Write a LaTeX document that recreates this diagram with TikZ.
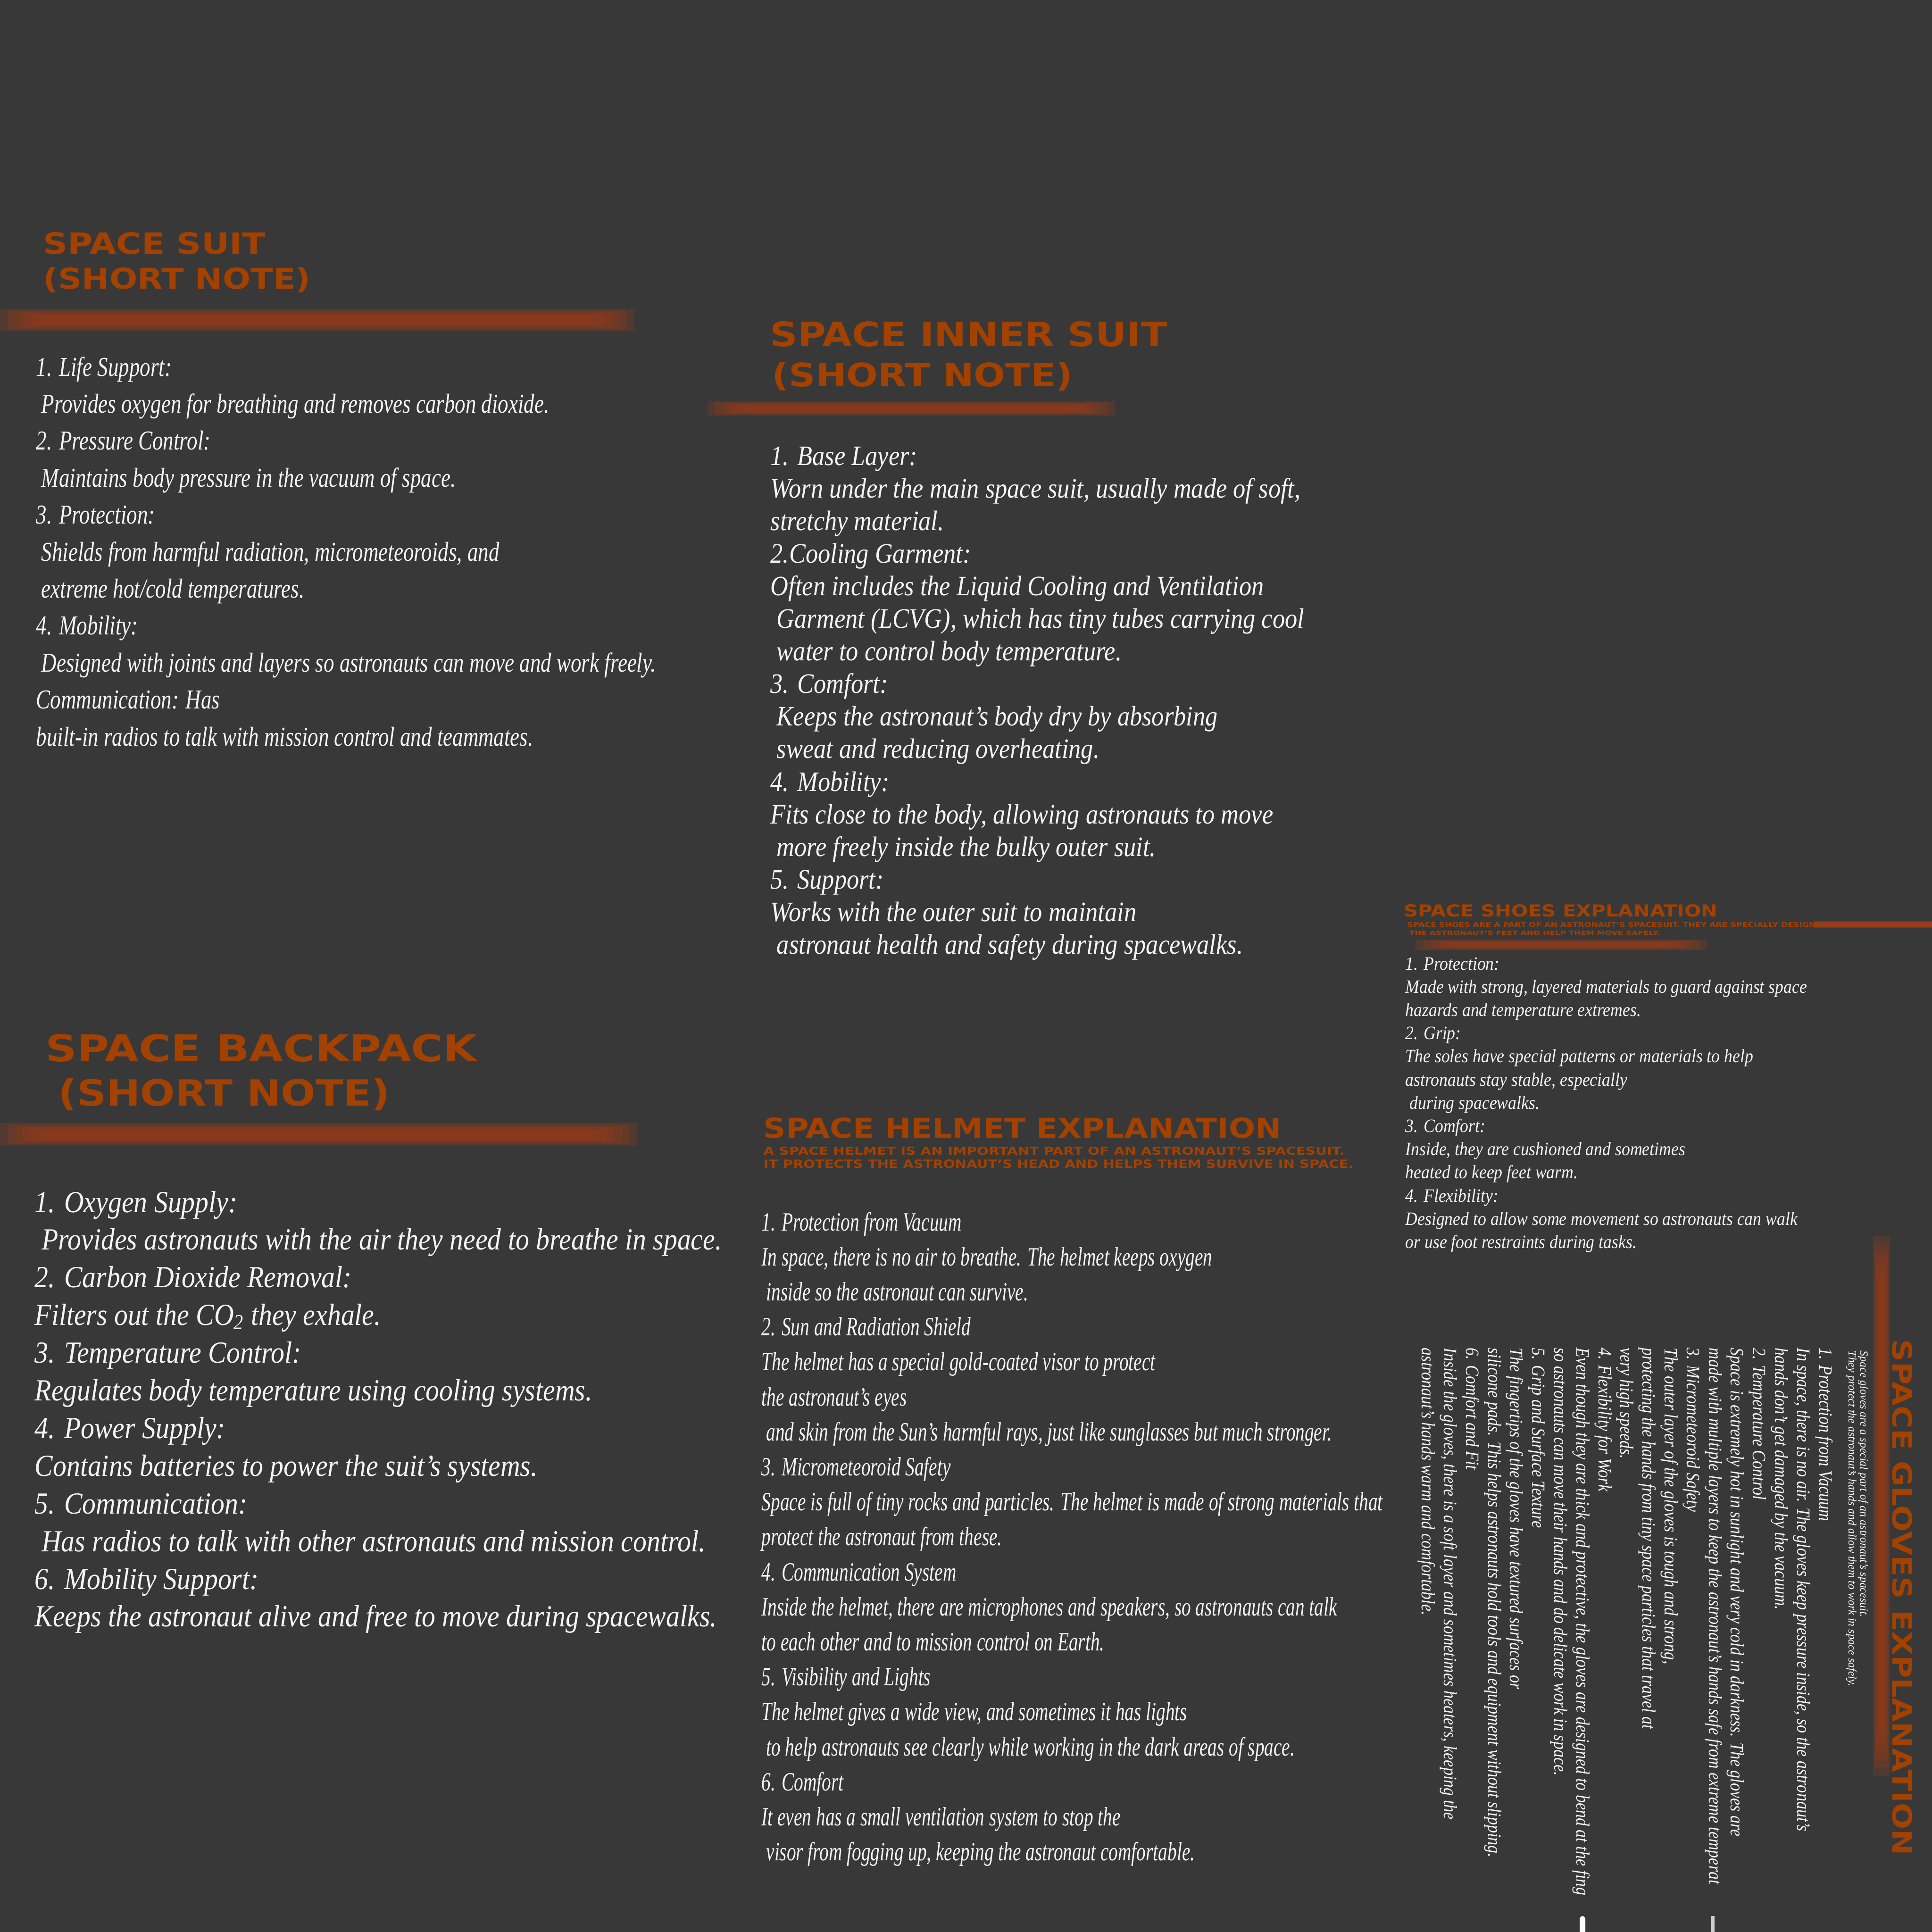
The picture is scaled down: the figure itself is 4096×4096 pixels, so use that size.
\documentclass[tikz,border=0pt]{standalone}
\usepackage{fontspec}
\usepackage{graphicx}
\newfontfamily\ttlfnt{DejaVu Sans}
\newfontfamily\fA[FakeStretch=0.775]{Liberation Serif}
\newfontfamily\fB[FakeStretch=0.877]{Liberation Serif}
\newfontfamily\fC[FakeStretch=0.888]{Liberation Serif}
\newfontfamily\fD[FakeStretch=0.703]{Liberation Serif}
\newfontfamily\fE[FakeStretch=0.89]{Liberation Serif}
\newfontfamily\fF[FakeStretch=0.85]{Liberation Serif}
\newfontfamily\fS[FakeStretch=1.0]{Liberation Serif}
\definecolor{bgc}{HTML}{383838}
\definecolor{ttlc}{HTML}{A34100}
\definecolor{glowc}{HTML}{953C1A}
\definecolor{txtc}{HTML}{F4F4F4}
\newdimen\pxu \pxu=0.01cm
\newcommand\glowH[4]{%
  \pgfmathsetmacro\vs{(#4-#2)*0.06}%
  \foreach \k in {0,...,6}{%
    \pgfmathsetmacro\ax{#1+\k*16}\pgfmathsetmacro\bx{#3-\k*16}%
    \pgfmathsetmacro\ay{#2+\k*\vs}\pgfmathsetmacro\by{#4-\k*\vs}%
    \fill[glowc,opacity=0.28] (\ax,\ay) rectangle (\bx,\by);}}
\newcommand\glowV[4]{%
  \pgfmathsetmacro\vs{(#3-#1)*0.06}%
  \foreach \k in {0,...,6}{%
    \pgfmathsetmacro\ax{#1+\k*\vs}\pgfmathsetmacro\bx{#3-\k*\vs}%
    \pgfmathsetmacro\ay{#2+\k*16}\pgfmathsetmacro\by{#4-\k*16}%
    \fill[glowc,opacity=0.26] (\ax,\ay) rectangle (\bx,\by);}}
\newcommand\ttltext[3]{\resizebox{#1\pxu}{#2\pxu}{\ttlfnt\bfseries #3}}
\begin{document}
\begin{tikzpicture}[x=0.01cm,y=-0.01cm,
  ttl/.style={inner sep=0pt, anchor=base west, text=ttlc},
  lnA/.style={inner sep=0pt, anchor=base west, text=txtc, font={\fA\itshape\fontsize{16.5}{20}\selectfont}},
  lnB/.style={inner sep=0pt, anchor=base west, text=txtc, font={\fB\itshape\fontsize{17}{20}\selectfont}},
  lnC/.style={inner sep=0pt, anchor=base west, text=txtc, font={\fC\itshape\fontsize{18.5}{22}\selectfont}},
  lnD/.style={inner sep=0pt, anchor=base west, text=txtc, font={\fD\itshape\fontsize{15.9}{19}\selectfont}},
  lnE/.style={inner sep=0pt, anchor=base west, text=txtc, font={\fE\itshape\fontsize{11.4}{14}\selectfont}},
  lnF/.style={inner sep=0pt, anchor=base west, text=txtc, rotate=-90, font={\fF\itshape\fontsize{11.4}{14}\selectfont}},
  lnS/.style={inner sep=0pt, anchor=base west, text=txtc, rotate=-90, font={\fS\itshape\fontsize{6.8}{8}\selectfont}}]
\useasboundingbox (0,0) rectangle (4096,4096);
\fill[bgc] (0,0) rectangle (4096,4096);

% ---------- glow bars ----------
\glowH{0}{655}{1345}{702}
\glowH{1500}{851}{2364}{881}
\glowH{0}{2381}{1350}{2429}
\glowH{3001}{1992}{3619}{2014}
\glowV{3971}{2620}{4007}{3765}
\fill[glowc,opacity=0.5] (3845,1953) rectangle (4096,1968);
\fill[glowc] (3845,1955) rectangle (4096,1966);

% ---------- titles ----------
\node[ttl] (tA1) at (91,538) {\ttltext{471}{46}{SPACE SUIT}};
\node[ttl] (tA2) at (91,612) {\ttltext{567}{46}{(SHORT NOTE)}};
\node[ttl] (tB1) at (1632,734) {\ttltext{842}{53}{SPACE INNER SUIT}};
\node[ttl] (tB2) at (1636,819) {\ttltext{638}{52}{(SHORT NOTE)}};
\node[ttl] (tC1) at (96,2250) {\ttltext{915}{58}{SPACE BACKPACK}};
\node[ttl] (tC2) at (123,2344) {\ttltext{703}{58}{(SHORT NOTE)}};
\node[ttl] (tD1) at (1618,2412) {\ttltext{1098}{43}{SPACE HELMET EXPLANATION}};
\node[ttl] (tD2) at (1618,2448) {\ttltext{1232}{17}{A SPACE HELMET IS AN IMPORTANT PART OF AN ASTRONAUT’S SPACESUIT.}};
\node[ttl] (tD3) at (1618,2476) {\ttltext{1251}{18}{IT PROTECTS THE ASTRONAUT’S HEAD AND HELPS THEM SURVIVE IN SPACE.}};
\node[ttl] (tE1) at (2976,1943) {\ttltext{665}{26}{SPACE SHOES EXPLANATION}};
\node[ttl] (tE2) at (2983,1965) {\ttltext{866}{10}{SPACE SHOES ARE A PART OF AN ASTRONAUT’S SPACESUIT. THEY ARE SPECIALLY DESIGN}};
\node[ttl] (tE3) at (2987,1982) {\ttltext{532}{9}{THE ASTRONAUT’S FEET AND HELP THEM MOVE SAFELY.}};
\node[ttl, rotate=-90] (tF1) at (4012,2839) {\ttltext{1094}{42}{SPACE GLOVES EXPLANATION}};

% ---------- space suit ----------
\foreach \t [count=\i from 0] in {
 {1. Life Support:},
 {\ Provides oxygen for breathing and removes carbon dioxide.},
 {2. Pressure Control:},
 {\ Maintains body pressure in the vacuum of space.},
 {3. Protection:},
 {\ Shields from harmful radiation, micrometeoroids, and},
 {\ extreme hot/cold temperatures.},
 {4. Mobility:},
 {\ Designed with joints and layers so astronauts can move and work freely.},
 {Communication: Has},
 {built-in radios to talk with mission control and teammates.}}
 {\node[lnA] (sa\i) at (76,797+\i*78.4) {\t};}

% ---------- inner suit ----------
\foreach \t [count=\i from 0] in {
 {1. Base Layer:},
 {Worn under the main space suit, usually made of soft,},
 {stretchy material.},
 {2.Cooling Garment:},
 {Often includes the Liquid Cooling and Ventilation},
 {\ Garment (LCVG), which has tiny tubes carrying cool},
 {\ water to control body temperature.},
 {3. Comfort:},
 {\ Keeps the astronaut’s body dry by absorbing},
 {\ sweat and reducing overheating.},
 {4. Mobility:},
 {Fits close to the body, allowing astronauts to move},
 {\ more freely inside the bulky outer suit.},
 {5. Support:},
 {Works with the outer suit to maintain},
 {\ astronaut health and safety during spacewalks.}}
 {\node[lnB] (sb\i) at (1633,986+\i*69.1) {\t};}

% ---------- backpack ----------
\foreach \t [count=\i from 0] in {
 {1. Oxygen Supply:},
 {\ Provides astronauts with the air they need to breathe in space.},
 {2. Carbon Dioxide Removal:},
 {Filters out the CO\textsubscript{2} they exhale.},
 {3. Temperature Control:},
 {Regulates body temperature using cooling systems.},
 {4. Power Supply:},
 {Contains batteries to power the suit’s systems.},
 {5. Communication:},
 {\ Has radios to talk with other astronauts and mission control.},
 {6. Mobility Support:},
 {Keeps the astronaut alive and free to move during spacewalks.}}
 {\node[lnC] (sc\i) at (73,2570+\i*79.9) {\t};}

% ---------- helmet ----------
\foreach \t [count=\i from 0] in {
 {1. Protection from Vacuum},
 {In space, there is no air to breathe. The helmet keeps oxygen},
 {\ inside so the astronaut can survive.},
 {2. Sun and Radiation Shield},
 {The helmet has a special gold-coated visor to protect},
 {the astronaut’s eyes},
 {\ and skin from the Sun’s harmful rays, just like sunglasses but much stronger.},
 {3. Micrometeoroid Safety},
 {Space is full of tiny rocks and particles. The helmet is made of strong materials that},
 {protect the astronaut from these.},
 {4. Communication System},
 {Inside the helmet, there are microphones and speakers, so astronauts can talk},
 {to each other and to mission control on Earth.},
 {5. Visibility and Lights},
 {The helmet gives a wide view, and sometimes it has lights},
 {\ to help astronauts see clearly while working in the dark areas of space.},
 {6. Comfort},
 {It even has a small ventilation system to stop the},
 {\ visor from fogging up, keeping the astronaut comfortable.}}
 {\node[lnD] (sd\i) at (1614,2609+\i*74.2) {\t};}

% ---------- shoes ----------
\foreach \t [count=\i from 0] in {
 {1. Protection:},
 {Made with strong, layered materials to guard against space},
 {hazards and temperature extremes.},
 {2. Grip:},
 {The soles have special patterns or materials to help},
 {astronauts stay stable, especially},
 {\ during spacewalks.},
 {3. Comfort:},
 {Inside, they are cushioned and sometimes},
 {heated to keep feet warm.},
 {4. Flexibility:},
 {Designed to allow some movement so astronauts can walk},
 {or use foot restraints during tasks.}}
 {\node[lnE] (se\i) at (2979,2056+\i*49.2) {\t};}

% ---------- gloves ----------
\node[lnS] (gs1) at (3944,2863) {Space gloves are a special part of an astronaut’s spacesuit.};
\node[lnS] (gs2) at (3919,2863) {They protect the astronaut’s hands and allow them to work in space safely.};
\begin{scope}
\clip (2900,2700) rectangle (3950,4058);
\foreach \t [count=\i from 0] in {
 {1. Protection from Vacuum},
 {In space, there is no air. The gloves keep pressure inside, so the astronaut’s},
 {hands don’t get damaged by the vacuum.},
 {2. Temperature Control},
 {Space is extremely hot in sunlight and very cold in darkness. The gloves are},
 {made with multiple layers to keep the astronaut’s hands safe from extreme temperat},
 {3. Micrometeoroid Safety},
 {The outer layer of the gloves is tough and strong,},
 {protecting the hands from tiny space particles that travel at},
 {very high speeds.},
 {4. Flexibility for Work},
 {Even though they are thick and protective, the gloves are designed to bend at the fing},
 {so astronauts can move their hands and do delicate work in space.},
 {5. Grip and Surface Texture},
 {The fingertips of the gloves have textured surfaces or},
 {silicone pads. This helps astronauts hold tools and equipment without slipping.},
 {6. Comfort and Fit},
 {Inside the gloves, there is a soft layer and sometimes heaters, keeping the},
 {astronaut’s hands warm and comfortable.}}
 {\node[lnF] (sf\i) at (3857-\i*46.8,2857) {\t};}
\end{scope}
\fill[white, rounded corners=2] (3349,4062) rectangle (3361,4110);
\fill[white!75!bgc] (3628,4062) rectangle (3635,4110);
\end{tikzpicture}
\end{document}
